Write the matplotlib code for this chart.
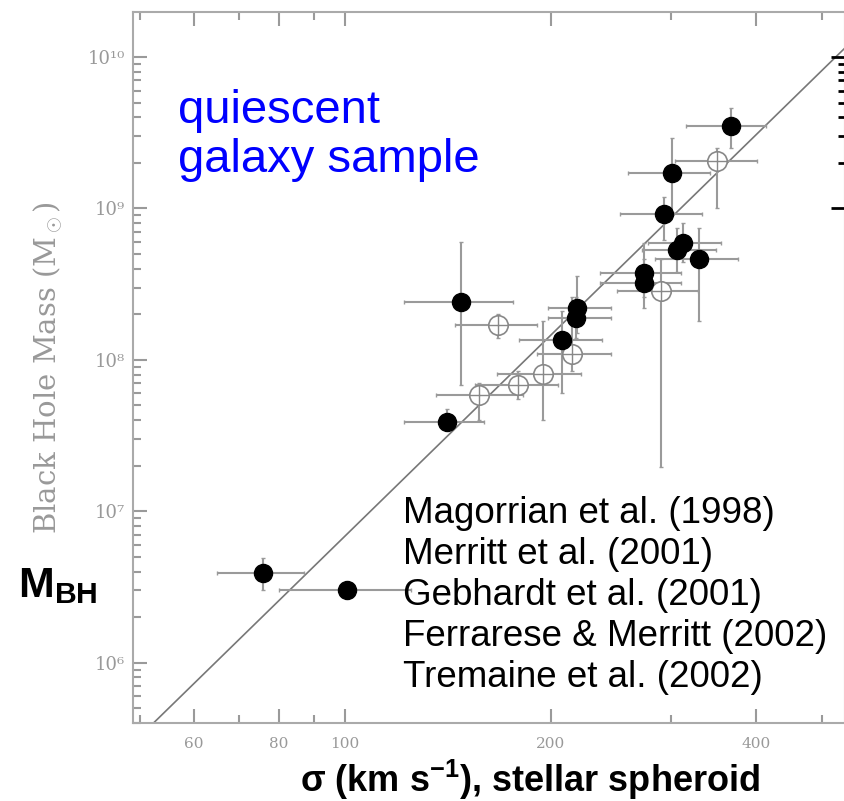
import numpy as np
import matplotlib
matplotlib.use("Agg")
import matplotlib.pyplot as plt
from matplotlib.ticker import FixedLocator, NullFormatter

# --- data (sigma in km/s, M in solar masses) ---
# filled symbols
fill_sigma = [75.8, 100.7, 141, 148, 208, 218, 219, 274, 274, 293, 301, 306, 313, 330, 368]
fill_mass = [3.9e6, 3.0e6, 3.9e7, 2.4e8, 1.36e8, 1.9e8, 2.2e8, 3.75e8, 3.2e8,
             9.2e8, 1.7e9, 5.3e8, 5.9e8, 4.6e8, 3.5e9]
fill_sigma_lo = [65, 80, 122, 122, 180, 198, 198, 236, 236, 253, 260, 272, 278, 284, 316]
fill_sigma_hi = [87, 125, 160, 176, 238, 245, 245, 311, 311, 333, 342, 350, 356, 376, 414]
fill_mass_lo = [3.0e6, 3.0e6, 3.5e7, 6.8e7, 6.0e7, 1.4e8, 1.5e8, 2.6e8, 2.2e8,
                6.2e8, 9.5e8, 3.8e8, 4.4e8, 1.8e8, 2.5e9]
fill_mass_hi = [4.9e6, 3.0e6, 4.7e7, 6.0e8, 2.1e8, 2.6e8, 3.6e8, 5.9e8, 4.6e8,
                1.19e9, 2.9e9, 7.4e8, 8.0e8, 7.4e8, 4.6e9]

# open symbols
open_sigma = [157, 167.5, 179, 195, 215, 290, 351]
open_mass = [5.9e7, 1.7e8, 6.85e7, 8.1e7, 1.1e8, 2.85e8, 2.06e9]
open_sigma_lo = [136, 145, 155, 167, 191, 250, 304]
open_sigma_hi = [182, 191, 205, 222, 245, 329, 401]
open_mass_lo = [4.0e7, 1.4e8, 5.5e7, 4.0e7, 8.5e7, 1.95e7, 1.0e9]
open_mass_hi = [7.0e7, 2.0e8, 8.5e7, 1.8e8, 2.6e8, 4.6e8, 2.5e9]

# M-sigma relation drawn as the line
fit_mass_200 = 1.45e8
fit_slope = 4.4

x_major = [60, 80, 100, 200, 400]
x_minor = [50, 70, 90, 300, 500]
y_major = [1e6, 1e7, 1e8, 1e9, 1e10]
y_labels = ["10⁶", "10⁷", "10⁸", "10⁹", "10¹⁰"]
# the right axis only shows dark ticks over the top decade
right_major = [1e9, 1e10]
right_minor = [k * 1e9 for k in range(2, 10)]

references = [
    "Magorrian et al. (1998)",
    "Merritt et al. (2001)",
    "Gebhardt et al. (2001)",
    "Ferrarese & Merritt (2002)",
    "Tremaine et al. (2002)",
]

W, H = 844, 801
GRAY = "#9a9a9a"


def fx(px):
    return px / W


def fy(py):
    return 1 - py / H


def main() -> None:
    plt.rcParams["mathtext.fontset"] = "custom"
    plt.rcParams["mathtext.rm"] = "Liberation Sans:bold"
    plt.rcParams["mathtext.it"] = "Liberation Sans:bold"
    plt.rcParams["mathtext.bf"] = "Liberation Sans:bold"

    fig = plt.figure(figsize=(W / 100, H / 100), dpi=100)
    ax = fig.add_axes([fx(133), fy(723), fx(845) - fx(133), fy(12) - fy(723)])
    ax.set_xscale("log")
    ax.set_yscale("log")
    ax.set_xlim(48.9, 540)
    ax.set_ylim(4.0e5, 1.98e10)

    # relation line
    s = np.geomspace(40, 700, 200)
    ax.plot(s, fit_mass_200 * (s / 200.0) ** fit_slope, color="#777777", lw=1.2, zorder=2)

    def bars(sig, m, slo, shi, mlo, mhi):
        sig = np.asarray(sig, float)
        m = np.asarray(m, float)
        xerr = [sig - np.asarray(slo), np.asarray(shi) - sig]
        yerr = [m - np.asarray(mlo), np.asarray(mhi) - m]
        return sig, m, xerr, yerr

    sig, m, xerr, yerr = bars(open_sigma, open_mass, open_sigma_lo, open_sigma_hi,
                              open_mass_lo, open_mass_hi)
    ax.errorbar(sig, m, xerr=xerr, yerr=yerr, fmt="none", ecolor=GRAY, elinewidth=1.5,
                capsize=1.5, zorder=3)
    ax.plot(sig, m, "o", ms=14, mfc="white", mec="#888888", mew=1.2, zorder=4)
    ax.plot(sig, m, "+", ms=14, color="#888888", mew=1.0, zorder=5)

    sig, m, xerr, yerr = bars(fill_sigma, fill_mass, fill_sigma_lo, fill_sigma_hi,
                              fill_mass_lo, fill_mass_hi)
    ax.errorbar(sig, m, xerr=xerr, yerr=yerr, fmt="none", ecolor=GRAY, elinewidth=1.5,
                capsize=1.5, zorder=3)
    ax.plot(sig, m, "o", ms=13, color="black", zorder=6)

    # axes styling
    for sp in ax.spines.values():
        sp.set_color("#aaaaaa")
        sp.set_linewidth(1.5)

    ax.xaxis.set_major_locator(FixedLocator(x_major))
    ax.xaxis.set_minor_locator(FixedLocator(x_minor))
    ax.set_xticklabels([str(v) for v in x_major])
    ax.xaxis.set_minor_formatter(NullFormatter())
    ax.set_yticks(y_major, labels=y_labels)
    ax.yaxis.set_minor_formatter(NullFormatter())

    ax.tick_params(which="both", direction="in", top=True, right=True, color=GRAY,
                   width=1.5, labelcolor="#999999")
    ax.tick_params(which="major", length=10)
    ax.tick_params(which="minor", length=6)
    ax.tick_params(axis="x", labelsize=11, pad=10)
    ax.tick_params(axis="y", labelsize=13, pad=6)
    for lab in ax.get_xticklabels() + ax.get_yticklabels():
        lab.set_family(["DejaVu Serif", "DejaVu Sans"])

    # dark ticks on the right over the top decade
    axr = ax.twinx()
    axr.set_yscale("log")
    axr.set_ylim(ax.get_ylim())
    axr.yaxis.set_major_locator(FixedLocator(right_major))
    axr.yaxis.set_minor_locator(FixedLocator(right_minor))
    axr.yaxis.set_major_formatter(NullFormatter())
    axr.yaxis.set_minor_formatter(NullFormatter())
    axr.tick_params(which="both", direction="in", color="black", width=2)
    axr.tick_params(which="major", length=10)
    axr.tick_params(which="minor", length=5)
    for sp in axr.spines.values():
        sp.set_visible(False)

    # text
    fig.text(fx(48), fy(368), r"Black Hole Mass (M$_\odot$)", rotation=90, ha="center",
             va="center", fontsize=21, color="#999999", family="DejaVu Serif")
    fig.text(fx(18), fy(597), r"$\mathrm{M}_{\mathrm{BH}}$", fontsize=31, ha="left",
             va="baseline", color="black")
    fig.text(fx(530), fy(780), r"σ (km s$^{\mathrm{-1}}$), stellar spheroid", ha="center",
             va="center", fontsize=26, fontweight="bold", family="Liberation Sans")
    fig.text(fx(178), fy(123), "quiescent", fontsize=34, color="#0000ff",
             family="Liberation Sans", va="baseline")
    fig.text(fx(178), fy(172), "galaxy sample", fontsize=34, color="#0000ff",
             family="Liberation Sans", va="baseline")
    for i, ref in enumerate(references):
        fig.text(fx(403), fy(523 + 41 * i), ref, fontsize=26.5, family="Liberation Sans",
                 va="baseline", color="black")

    fig.savefig("out.png", dpi=100)


if __name__ == "__main__":
    main()
